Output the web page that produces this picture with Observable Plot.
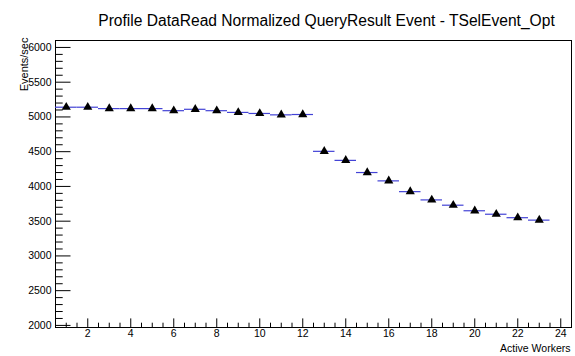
<!DOCTYPE html>
<html>
<head>
<meta charset="utf-8">
<script src="https://cdn.jsdelivr.net/npm/d3@7"></script>
<script src="https://cdn.jsdelivr.net/npm/@observablehq/plot@0.6"></script>
<style>
  html, body { margin: 0; padding: 0; background: #fff; }
</style>
</head>
<body>
<div id="chart"></div>
<script>
const titleText = "Profile DataRead Normalized QueryResult Event - TSelEvent_Opt";
const xLabel = "Active Workers";
const yLabel = "Events/sec";
const workers = [1, 2, 3, 4, 5, 6, 7, 8, 9, 10, 11, 12, 13, 14, 15, 16, 17, 18, 19, 20, 21, 22, 23];
const rate = [5140, 5140, 5120, 5120, 5120, 5090, 5110, 5090, 5065, 5050, 5030, 5035,
              4505, 4375, 4200, 4080, 3925, 3806, 3730, 3650, 3600, 3550, 3515];
const binHalfWidth = 0.5;
const xMajor = [2, 4, 6, 8, 10, 12, 14, 16, 18, 20, 22, 24];
const xMinor = d3.range(0.5, 24.51, 0.5).filter(v => v % 2 !== 0);
const yMajor = [2000, 2500, 3000, 3500, 4000, 4500, 5000, 5500, 6000];
const yMinor = d3.range(2000, 6001, 100).filter(v => v % 500 !== 0);

const data = workers.map((w, i) => ({w, v: rate[i]}));
const font = "'Liberation Sans', Arial, Helvetica, sans-serif";

const chart = Plot.plot({
  width: 575,
  height: 356,
  marginLeft: 55,
  marginRight: 4,
  marginTop: 40,
  marginBottom: 29,
  style: {fontFamily: font, fontSize: "10.5px", background: "#fff", color: "#000"},
  x: {domain: [0.5, 24.5]},
  y: {domain: [1970, 6100]},
  marks: [
    Plot.frame({stroke: "#000", strokeWidth: 1}),
    Plot.axisY(yMajor, {anchor: "left", tickSize: -15.5, tickPadding: 19.5, label: null, tickFormat: d => String(d)}),
    Plot.axisY(yMinor, {anchor: "left", tickSize: -7.7, tickFormat: () => "", label: null}),
    Plot.axisX(xMajor, {anchor: "bottom", tickSize: -8.6, tickPadding: 11, label: null, tickFormat: d => String(d)}),
    Plot.axisX(xMinor, {anchor: "bottom", tickSize: -4.3, tickFormat: () => "", label: null}),
    Plot.ruleY(data, {y: "v", x1: d => d.w - binHalfWidth, x2: d => d.w + binHalfWidth, stroke: "#4343d6", strokeWidth: 1.2}),
    Plot.dot(data, {x: "w", y: "v", symbol: "triangle", r: 3.4, fill: "#000", stroke: null}),
    Plot.text([titleText], {frameAnchor: "top", dy: -26, dx: 13, fontSize: 15.6, fill: "#000", text: d => d}),
    Plot.text([xLabel], {frameAnchor: "bottom-right", textAnchor: "end", dy: 24, dx: -1, fontSize: 10.5, fill: "#000", text: d => d}),
    Plot.text([yLabel], {frameAnchor: "top-left", textAnchor: "end", rotate: -90, dx: -35, dy: -3, fontSize: 11, fill: "#000", text: d => d})
  ]
});
document.getElementById("chart").appendChild(chart);
</script>
</body>
</html>
